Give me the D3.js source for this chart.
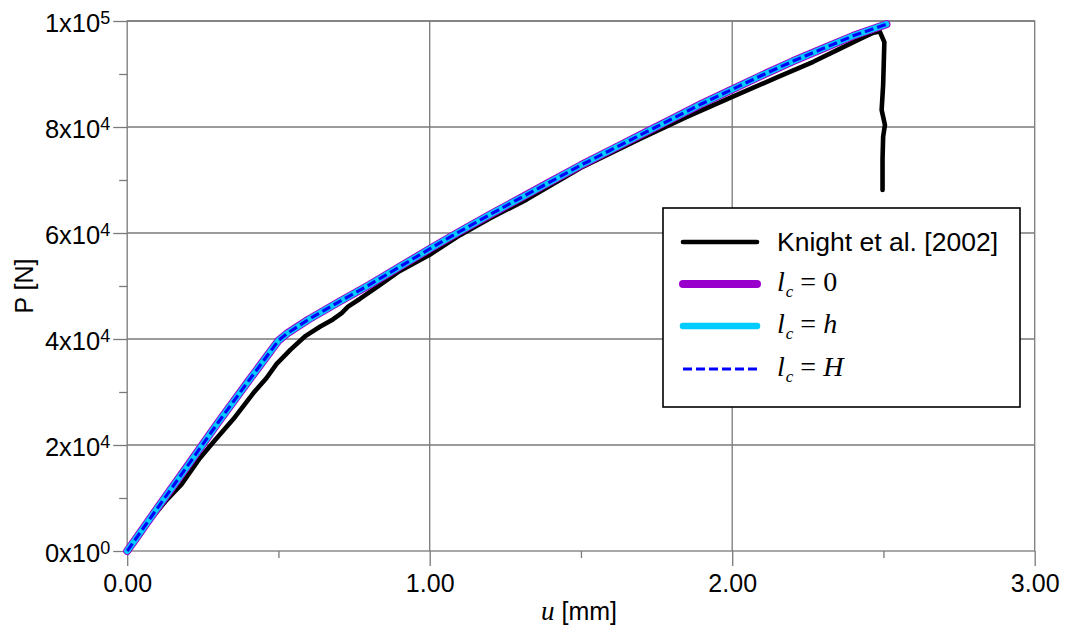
<!DOCTYPE html>
<html><head><meta charset="utf-8">
<script src="https://cdn.jsdelivr.net/npm/d3@7"></script>
<style>html,body{margin:0;padding:0;background:#fff;} svg{display:block;}</style>
</head><body>
<svg id="chart" width="1066" height="634"></svg>
<script>
// ---- tick data ----
const xTicks = [0, 1, 2, 3];
const xTickLabels = ["0.00", "1.00", "2.00", "3.00"];
const xMinorTicks = [0.5, 1.5, 2.5];
const yTicks = [0, 20000, 40000, 60000, 80000, 100000];
const yTickMantissa = ["0", "2", "4", "6", "8", "1"];
const yTickExponent = ["0", "4", "4", "4", "4", "5"];
const yMinorTicks = [10000, 30000, 50000, 70000, 90000];

// ---- series: Knight et al. [2002] (experiment) ----
const knightU = [0, 0.04, 0.075, 0.13, 0.18, 0.24, 0.29, 0.351, 0.417, 0.46, 0.494, 0.54, 0.59, 0.637, 0.68, 0.709, 0.73, 0.77, 0.836, 0.9, 1.0, 1.1, 1.2, 1.32, 1.5, 1.7, 1.85, 2.0, 2.15, 2.268, 2.35, 2.433, 2.467, 2.488, 2.503, 2.501, 2.499, 2.494, 2.505, 2.499, 2.497, 2.497];
const knightP = [0, 2800, 5800, 9600, 12600, 17500, 20900, 24900, 29800, 32600, 35300, 38000, 40600, 42300, 43700, 44900, 46100, 47600, 50200, 52800, 55900, 59600, 62800, 66300, 72300, 77900, 81900, 85700, 89400, 92300, 94600, 96900, 97800, 98000, 96000, 92000, 88000, 83200, 80400, 78200, 74000, 68100];

// ---- series: model results (three coincident curves) ----
const modelU = [0, 0.1, 0.2, 0.3, 0.4, 0.5, 0.53, 0.6, 0.7, 0.8, 0.9, 1.0, 1.1, 1.2, 1.3, 1.4, 1.5, 1.6, 1.7, 1.8, 1.9, 2.0, 2.1, 2.2, 2.3, 2.4, 2.51];
const lc0P = [0, 8100, 16100, 24200, 32000, 39700, 41100, 43700, 47000, 50200, 53600, 57000, 60300, 63500, 66600, 69700, 72800, 75700, 78600, 81500, 84400, 87100, 89800, 92400, 94800, 97200, 99400];
const lchP = [0, 8100, 16100, 24200, 32000, 39700, 41100, 43700, 47000, 50200, 53600, 57000, 60300, 63500, 66600, 69700, 72800, 75700, 78600, 81500, 84400, 87100, 89800, 92400, 94800, 97200, 99400];
const lcHP = [0, 8100, 16100, 24200, 32000, 39700, 41100, 43700, 47000, 50200, 53600, 57000, 60300, 63500, 66600, 69700, 72800, 75700, 78600, 81500, 84400, 87100, 89800, 92400, 94800, 97200, 99400];

// ---- legend labels ----
const legendKnight = "Knight et al. [2002]";
const legendRhs = ["0", "h", "H"];
const legendRhsItalic = [false, true, true];

const svg = d3.select("#chart");
const x = d3.scaleLinear().domain([0, 3]).range([127.2, 1034.7]);
const y = d3.scaleLinear().domain([0, 100000]).range([551, 21]);
const GRID = "#7a7a7a";
const SANS = "'Liberation Sans', Arial, sans-serif";
const SERIF = "'Liberation Serif', 'Times New Roman', serif";

// gridlines
svg.append("g").selectAll("line").data(xTicks.slice(1, -1)).join("line")
  .attr("x1", d => x(d)).attr("x2", d => x(d)).attr("y1", y(0)).attr("y2", y(100000))
  .attr("stroke", GRID).attr("stroke-width", 1.3);
svg.append("g").selectAll("line").data(yTicks.slice(1)).join("line")
  .attr("x1", x(0)).attr("x2", x(3)).attr("y1", d => y(d)).attr("y2", d => y(d))
  .attr("stroke", GRID).attr("stroke-width", 1.3);
// frame
svg.append("rect").attr("x", x(0)).attr("y", y(100000))
  .attr("width", x(3) - x(0)).attr("height", y(0) - y(100000))
  .attr("fill", "none").attr("stroke", GRID).attr("stroke-width", 1.3);

// x axis
const xAxis = svg.append("g").attr("transform", `translate(0,${y(0)})`)
  .call(d3.axisBottom(x).tickValues(xTicks).tickSize(15).tickFormat((d, i) => xTickLabels[i]));
xAxis.select(".domain").remove();
xAxis.selectAll("line").attr("stroke", GRID).attr("stroke-width", 1.3);
xAxis.selectAll("text").attr("y", 41).attr("dy", null)
  .attr("font-family", SANS).attr("font-size", 25).attr("fill", "#000");
const xMinor = svg.append("g").attr("transform", `translate(0,${y(0)})`)
  .call(d3.axisBottom(x).tickValues(xMinorTicks).tickSize(7).tickFormat(""));
xMinor.select(".domain").remove();
xMinor.selectAll("line").attr("stroke", GRID).attr("stroke-width", 1.3);

// y axis
const yAxis = svg.append("g").attr("transform", `translate(${x(0)},0)`)
  .call(d3.axisLeft(y).tickValues(yTicks).tickSize(14).tickFormat(""));
yAxis.select(".domain").remove();
yAxis.selectAll("line").attr("stroke", GRID).attr("stroke-width", 1.3);
yAxis.selectAll(".tick").each(function (d, i) {
  const t = d3.select(this).append("text")
    .attr("x", -17).attr("y", 10.5).attr("text-anchor", "end")
    .attr("font-family", SANS).attr("fill", "#000");
  t.append("tspan").attr("font-size", 25.5).text(yTickMantissa[i] + "x10");
  t.append("tspan").attr("font-size", 18).attr("dy", -8).text(yTickExponent[i]);
});
const yMinor = svg.append("g").attr("transform", `translate(${x(0)},0)`)
  .call(d3.axisLeft(y).tickValues(yMinorTicks).tickSize(8).tickFormat(""));
yMinor.select(".domain").remove();
yMinor.selectAll("line").attr("stroke", GRID).attr("stroke-width", 1.3);

// axis titles
const xt = svg.append("text").attr("x", 541).attr("y", 620).attr("fill", "#000");
xt.append("tspan").attr("font-family", SERIF).attr("font-style", "italic").attr("font-size", 27).text("u");
xt.append("tspan").attr("font-family", SANS).attr("font-size", 25).text(" [mm]");
svg.append("text").attr("transform", "translate(33,286) rotate(-90)")
  .attr("text-anchor", "middle").attr("font-family", SANS).attr("font-size", 25)
  .attr("fill", "#000").text("P [N]");

// lines
const line = d3.line().x(d => x(d[0])).y(d => y(d[1]));
const zip = (a, b) => a.map((v, i) => [v, b[i]]);
const styles = [
  { color: "#000000", width: 4.6, dash: null },
  { color: "#9900cc", width: 8, dash: null },
  { color: "#00ccff", width: 6, dash: null },
  { color: "#0000ff", width: 3.2, dash: "9,4" }
];
const seriesData = [zip(knightU, knightP), zip(modelU, lc0P), zip(modelU, lchP), zip(modelU, lcHP)];
svg.append("g").selectAll("path").data(seriesData).join("path")
  .attr("d", line).attr("fill", "none")
  .attr("stroke", (d, i) => styles[i].color)
  .attr("stroke-width", (d, i) => styles[i].width)
  .attr("stroke-dasharray", (d, i) => styles[i].dash)
  .attr("stroke-linejoin", "round")
  .attr("stroke-linecap", (d, i) => styles[i].dash ? "butt" : "round");

// legend
const lg = svg.append("g");
lg.append("rect").attr("x", 663).attr("y", 208).attr("width", 357).attr("height", 199)
  .attr("fill", "#fff").attr("stroke", "#000").attr("stroke-width", 1.6);
const rowY = [242, 284, 326, 369];
styles.forEach((s, i) => {
  lg.append("line").attr("x1", 683).attr("x2", 757).attr("y1", rowY[i]).attr("y2", rowY[i])
    .attr("stroke", s.color).attr("stroke-width", i === 1 ? 8 : (i === 2 ? 6.5 : (i === 0 ? 4.6 : 3.2)))
    .attr("stroke-dasharray", s.dash).attr("stroke-linecap", s.dash ? "butt" : "round");
});
lg.append("text").attr("x", 777).attr("y", rowY[0] + 9).attr("font-family", SANS)
  .attr("font-size", 26.5).attr("fill", "#000").text(legendKnight);
legendRhs.forEach((r, i) => {
  const t = lg.append("text").attr("x", 777).attr("y", rowY[i + 1] + 7)
    .attr("font-family", SERIF).attr("font-size", 28).attr("fill", "#000");
  t.append("tspan").attr("font-style", "italic").text("l");
  t.append("tspan").attr("font-style", "italic").attr("font-size", 17).attr("dy", 6).attr("dx", 1).text("c");
  t.append("tspan").attr("dy", -6).text(" = ");
  t.append("tspan").attr("font-style", legendRhsItalic[i] ? "italic" : "normal").text(r);
});
</script>
</body></html>
